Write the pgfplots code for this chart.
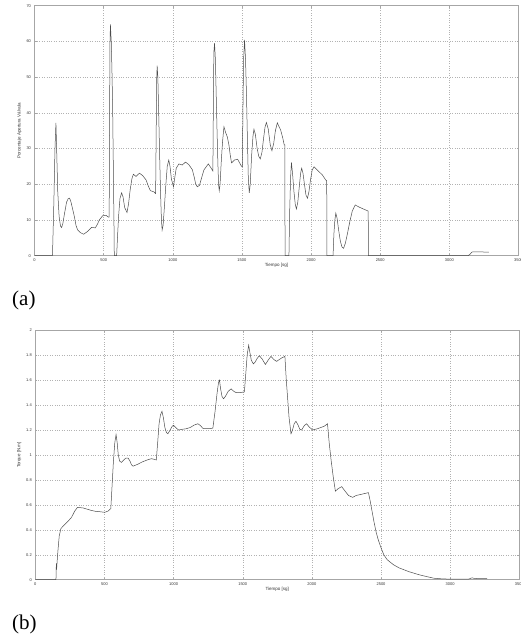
\documentclass[border=0pt]{standalone}
\usepackage{fontspec}
\setmainfont{Liberation Sans}
\newfontfamily\seriffont{Liberation Serif}
\usepackage{pgfplots}
\pgfplotsset{compat=1.18}
\pgfplotsset{
  matstyle/.style={
    scale only axis,
    anchor=south west,
    width=484pt,
    xmin=0, xmax=3500,
    xtick={0,500,...,3500},
    grid=major,
    grid style={dotted, gray!60, line width=0.4pt},
    axis line style={gray!70, line width=0.5pt},
    major tick length=2pt,
    tick style={gray!70, line width=0.4pt},
    tick align=inside,
    ticklabel style={font=\fontsize{4}{4.5}\selectfont, text=black!80},
    label style={font=\fontsize{4.5}{5}\selectfont, text=black!80},
    /pgf/number format/assume math mode=true,
    /pgf/number format/1000 sep={},
    xticklabel style={yshift=1pt},
    xlabel style={yshift=4.5pt},
    ylabel style={yshift=-2pt},
  }
}
\begin{document}
\begin{tikzpicture}
\useasboundingbox (0,0) rectangle (521pt,639pt);
% ---------------- (a) ----------------
\begin{axis}[matstyle, at={(34.5pt,383.3pt)}, height=250pt,
  ymin=0, ymax=70, ytick={0,10,...,70},
  xlabel={Tiempo [sg]}, ylabel={Porcentaje Apertura Válvula}]
\addplot[black!70, line width=0.5pt] coordinates {
(0,0) (128,0) (130,0) (140,15) (148,30) (155,37.2) (160,30) (168,18) (178,11) (188,8.3) (196,7.9)
(205,9) (218,12) (232,15) (244,16) (254,16.1) (264,15) (276,13) (288,11) (300,8.5) (312,7.2)
(330,6.5) (355,6.0) (384,6.8) (413,7.9) (440,7.8) (455,8.8) (469,10) (493,11.2) (517,11.3)
(534,10.8) (540,10.8) (543,40) (546,60) (549,64.8) (555,60) (560,52) (565,41.7) (570,25)
(575,8) (577,0) (594,0) (600,5) (608,11) (618,16) (630,17.6) (640,16.5) (652,13.5) (669,12.1)
(680,14.5) (692,18.5) (704,21.5) (715,22.8) (734,22.2) (759,23.1) (783,22.4) (807,21.2)
(823,19.5) (838,18.2) (862,17.9) (876,17.4) (880,35) (884,50) (887,53.2) (892,50) (898,40)
(905,28) (912,17) (918,10) (923,7.2) (930,8.5) (940,14) (950,20) (960,25) (971,26.8) (980,25)
(990,21.5) (1005,19.3) (1015,22) (1025,24.5) (1044,25.7) (1068,25.4) (1092,26.2) (1116,25.5)
(1141,24.1) (1155,22) (1165,20.2) (1177,19.3) (1193,19.7) (1210,22) (1225,24.0) (1257,25.7)
(1276,24.6) (1290,23.7) (1293,40) (1297,57) (1302,59.5) (1308,55) (1314,45) (1320,35)
(1326,26) (1331,20) (1336,18.2) (1342,20) (1350,26) (1360,32) (1370,36.1) (1382,34.5)
(1394,33.3) (1406,31) (1416,28) (1425,26.0) (1447,26.8) (1469,27.0) (1493,25.3) (1503,24.8)
(1507,40) (1512,55) (1519,60.4) (1526,55) (1533,45) (1540,32) (1546,22) (1553,17.6) (1560,20)
(1570,28) (1580,33.5) (1587,35.4) (1597,34) (1610,30) (1622,27.8) (1633,27.1) (1645,29)
(1657,33) (1667,36) (1677,37.3) (1690,35.5) (1705,31) (1717,29.4) (1730,31.5) (1742,35)
(1756,37.2) (1770,36) (1780,35.2) (1795,33) (1806,31.0) (1810,31) (1812,0) (1840,0) (1845,12)
(1852,22) (1858,26.1) (1866,23) (1876,18) (1886,14.3) (1894,13.1) (1904,15) (1914,19) (1924,23)
(1932,24.5) (1942,23) (1952,20) (1963,17) (1974,16.1) (1985,18) (1995,21) (2008,24) (2022,24.9)
(2040,24.2) (2058,23.5) (2082,22.6) (2106,21.2) (2113,21) (2115,0) (2159,0) (2165,6) (2172,10)
(2179,11.9) (2188,10.5) (2200,7) (2212,4) (2224,2.4) (2235,2.07) (2248,3.5) (2262,6) (2280,9.5)
(2298,12.5) (2319,14.2) (2348,13.6) (2377,13.1) (2413,12.5) (2415,0) (3135,0) (3150,0.4)
(3160,0.9) (3170,1.1) (3285,1.0)
};
\end{axis}
% ---------------- (b) ----------------
\begin{axis}[matstyle, at={(35.3pt,59.3pt)}, height=249.5pt,
  ymin=0, ymax=2, ytick={0,0.2,...,2.01},
  yticklabel style={/pgf/number format/fixed, /pgf/number format/precision=1},
  xlabel={Tiempo [sg]}, ylabel={Torque [N.m]}]
\addplot[black!70, line width=0.5pt] coordinates {
(0,0) (149,0) (150,0.02) (152,0.13) (154,0.08) (160,0.18) (165,0.25) (173,0.35) (185,0.41)
(202,0.43) (220,0.45) (238,0.47) (262,0.5) (285,0.55) (305,0.58) (346,0.575) (376,0.565)
(406,0.555) (436,0.548) (466,0.545) (502,0.54) (526,0.55) (546,0.57) (555,0.75) (565,0.95)
(575,1.1) (584,1.163) (592,1.1) (600,1.0) (610,0.95) (623,0.94) (640,0.96) (655,0.975)
(671,0.975) (685,0.95) (696,0.92) (707,0.91) (740,0.925) (775,0.945) (810,0.96) (839,0.97)
(860,0.965) (875,0.96) (885,1.1) (895,1.25) (905,1.32) (916,1.35) (926,1.3) (937,1.22)
(948,1.18) (959,1.17) (975,1.2) (990,1.23) (1000,1.238) (1015,1.22) (1036,1.2) (1060,1.205)
(1091,1.21) (1120,1.22) (1150,1.24) (1176,1.25) (1195,1.235) (1210,1.215) (1224,1.21)
(1255,1.21) (1284,1.215) (1300,1.35) (1315,1.5) (1325,1.58) (1332,1.6) (1340,1.53) (1350,1.47)
(1361,1.45) (1375,1.47) (1395,1.51) (1416,1.53) (1435,1.51) (1452,1.5) (1480,1.5) (1512,1.505)
(1522,1.65) (1532,1.8) (1543,1.88) (1552,1.82) (1562,1.76) (1577,1.73) (1590,1.745)
(1605,1.775) (1620,1.795) (1640,1.77) (1664,1.725) (1684,1.76) (1704,1.79) (1725,1.765)
(1745,1.75) (1765,1.765) (1785,1.78) (1805,1.79) (1815,1.6) (1825,1.45) (1835,1.3) (1849,1.17)
(1860,1.2) (1872,1.25) (1885,1.27) (1900,1.24) (1913,1.205) (1926,1.2) (1945,1.235) (1962,1.25)
(1980,1.225) (2005,1.2) (2040,1.21) (2089,1.23) (2113,1.25) (2125,1.1) (2140,0.95) (2155,0.82)
(2170,0.71) (2190,0.73) (2216,0.746) (2240,0.71) (2265,0.675) (2295,0.66) (2320,0.675)
(2360,0.685) (2409,0.698) (2420,0.64) (2435,0.55) (2449,0.465) (2465,0.38) (2480,0.32)
(2497,0.265) (2520,0.2) (2545,0.16) (2590,0.12) (2630,0.095) (2700,0.065) (2774,0.04)
(2830,0.025) (2882,0.012) (2950,0.006) (3000,0.005) (3135,0.005) (3150,0.012) (3160,0.015)
(3175,0.01) (3267,0.008)
};
\end{axis}
\node[anchor=west, inner sep=0pt, font=\seriffont\fontsize{21}{24}\selectfont] at (12pt,339pt) {(a)};
\node[anchor=west, inner sep=0pt, font=\seriffont\fontsize{21}{24}\selectfont] at (12pt,15pt) {(b)};
\end{tikzpicture}
\end{document}
